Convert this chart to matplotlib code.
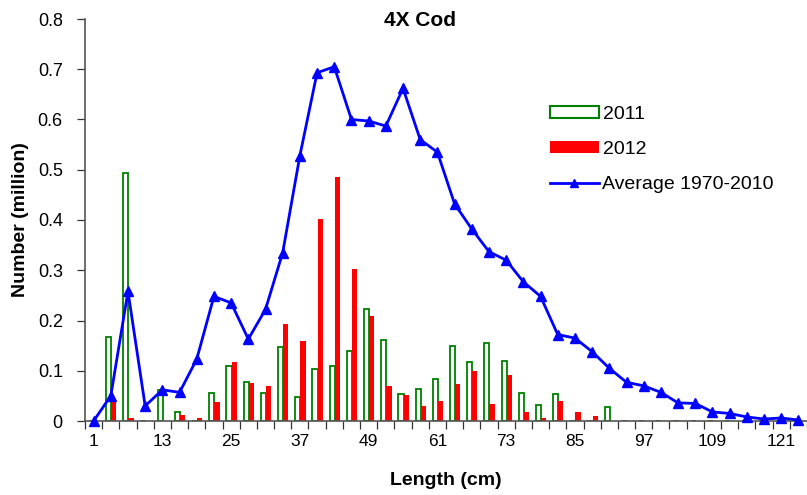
import numpy as np
import matplotlib
matplotlib.use("Agg")
import matplotlib.pyplot as plt
from matplotlib.lines import Line2D
from matplotlib.patches import Patch

plt.rcParams['font.family'] = ['Liberation Sans', 'DejaVu Sans']

# length classes (cm), every 3 cm
lengths = list(range(1, 125, 3))

n2011 = [0, 0.168, 0.493, 0, 0.062, 0.018, 0, 0.055, 0.109, 0.078,
         0.055, 0.148, 0.048, 0.103, 0.109, 0.139, 0.223, 0.161, 0.054, 0.064,
         0.084, 0.150, 0.118, 0.155, 0.120, 0.056, 0.032, 0.054, 0, 0,
         0.027, 0, 0, 0, 0, 0, 0, 0, 0, 0, 0, 0]
n2012 = [0, 0.038, 0.006, 0, 0, 0.011, 0.006, 0.038, 0.117, 0.076,
         0.070, 0.194, 0.160, 0.401, 0.485, 0.302, 0.209, 0.070, 0.052, 0.029,
         0.040, 0.074, 0.099, 0.033, 0.092, 0.017, 0.005, 0.040, 0.017, 0.010,
         0, 0, 0, 0, 0, 0, 0, 0, 0, 0, 0, 0]
avg = [0, 0.050, 0.258, 0.030, 0.062, 0.057, 0.123, 0.248, 0.235, 0.163,
       0.222, 0.335, 0.528, 0.693, 0.705, 0.600, 0.597, 0.587, 0.662, 0.560,
       0.535, 0.432, 0.382, 0.337, 0.320, 0.277, 0.248, 0.172, 0.165, 0.138,
       0.105, 0.077, 0.070, 0.057, 0.036, 0.035, 0.018, 0.015, 0.008, 0.004,
       0.006, 0.002]

x = np.arange(len(lengths))

fig = plt.figure(figsize=(8.07, 4.95), dpi=100)
ax = fig.add_axes([85 / 807, 74 / 495, 722 / 807, 402 / 495])

bw = 0.3
ax.bar(x - 0.12, n2011, width=bw, facecolor='white', edgecolor='#008000',
       linewidth=1.3, zorder=2)
ax.bar(x + 0.18, n2012, width=bw, color='#FF0000', linewidth=0, zorder=2)
ax.plot(x, avg, color='#0000FF', lw=2, marker='^', ms=7, zorder=3, clip_on=False)

ax.set_xlim(-0.5, 41.1)
ax.set_ylim(0, 0.8)
ax.set_yticks(np.arange(0, 0.81, 0.1))
ax.set_yticklabels(['0'] + [f'{v:.1f}' for v in np.arange(0.1, 0.81, 0.1)])
ax.set_xticks(x[::4])
ax.set_xticklabels([str(lengths[i]) for i in x[::4]])
ax.set_xticks(np.arange(-0.5, 41.6, 1), minor=True)
ax.tick_params(axis='x', which='major', length=0, pad=9, labelsize=12.5)
ax.tick_params(axis='x', which='minor', length=6, width=0.9, color='#333333')
ax.tick_params(axis='y', length=6, width=0.9, color='#333333', labelsize=13,
               pad=10)

for s in ['top', 'right']:
    ax.spines[s].set_visible(False)
for s in ['left', 'bottom']:
    ax.spines[s].set_color('#555555')
    ax.spines[s].set_linewidth(1.2)

ax.set_ylabel('Number (million)', fontsize=14, fontweight='bold', labelpad=6)
ax.set_xlabel('Length (cm)', fontsize=14, fontweight='bold', labelpad=17)
fig.text(420 / 807, 1 - 20 / 495, '4X Cod', ha='center', va='center', fontsize=15,
         fontweight='bold')

handles = [Patch(facecolor='white', edgecolor='#008000', linewidth=1.5),
           Patch(facecolor='#FF0000'),
           Line2D([], [], color='#0000FF', lw=2, marker='^', ms=6)]
ax.legend(handles, ['2011', '2012', 'Average 1970-2010'], loc='upper left',
          bbox_to_anchor=(550 / 807, 1 - 106 / 495), bbox_transform=fig.transFigure,
          frameon=False, fontsize=14, handlelength=2.5, handleheight=0.6,
          labelspacing=0.93, borderpad=0, borderaxespad=0, handletextpad=0.2)

fig.savefig('out.png', dpi=100)
